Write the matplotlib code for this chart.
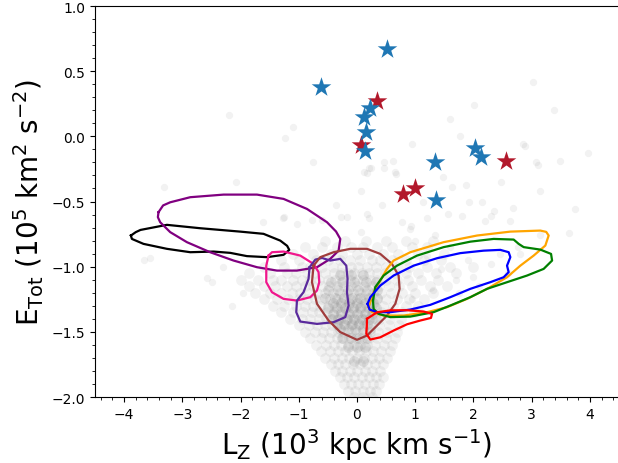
import numpy as np
import matplotlib
matplotlib.use("Agg")
import matplotlib.pyplot as plt
from matplotlib.ticker import MultipleLocator

# ---------------- data ----------------
# stars (L_Z in 10^3 kpc km/s, E_Tot in 10^5 km^2/s^2)
blue_lz = [0.51, -0.61, 0.23, 0.125, 0.148, 0.13, 1.333, 2.02, 2.136, 1.363]
blue_e = [0.668, 0.379, 0.214, 0.145, 0.035, -0.11, -0.199, -0.092, -0.157, -0.486]
red_lz = [0.344, 0.069, 2.565, 0.79, 1.0]
red_e = [0.274, -0.063, -0.193, -0.441, -0.40]

# contour outlines (closed)
black_x = [-3.883, -3.80, -3.718, -3.265, -2.692, -2.005, -1.605, -1.318, -1.20, -1.163, -1.261, -1.546,
           -1.890, -2.177, -2.464, -2.864, -3.265, -3.667, -3.866]
black_y = [-0.761, -0.735, -0.718, -0.679, -0.705, -0.731, -0.748, -0.800, -0.84, -0.871, -0.909, -0.927,
           -0.919, -0.894, -0.884, -0.889, -0.863, -0.825, -0.787]
purple_x = [-3.409, -3.33, -3.208, -2.864, -2.292, -1.718, -1.261, -0.859, -0.515, -0.36, -0.287, -0.316,
            -0.459, -0.687, -1.031, -1.375, -1.718, -2.120, -2.522, -2.921, -3.208, -3.380, -3.42]
purple_y = [-0.582, -0.53, -0.506, -0.467, -0.447, -0.447, -0.480, -0.557, -0.659, -0.73, -0.787, -0.877,
            -0.940, -1.004, -1.030, -1.030, -1.004, -0.953, -0.889, -0.812, -0.735, -0.659, -0.62]
pink_x = [-1.519, -1.46, -1.261, -0.974, -0.746, -0.660, -0.648, -0.687, -0.802, -1.031,
          -1.261, -1.460, -1.558, -1.558]
pink_y = [-0.915, -0.889, -0.884, -0.915, -0.979, -1.042, -1.119, -1.183, -1.234, -1.260,
          -1.247, -1.196, -1.119, -0.992]
indigo_x = [-0.814, -0.716, -0.601, -0.459, -0.287, -0.184, -0.162, -0.172, -0.144, -0.201,
            -0.402, -0.687, -0.974, -1.043, -1.031, -0.918, -0.832]
indigo_y = [-1.004, -0.946, -0.933, -0.953, -0.940, -0.992, -1.094, -1.196, -1.298, -1.387,
            -1.426, -1.439, -1.421, -1.349, -1.260, -1.196, -1.094]
brown_x = [-0.746, -0.631, -0.402, -0.115, 0.172, 0.400, 0.601, 0.715, 0.732, 0.658,
           0.515, 0.344, 0.172, 0.000, -0.287, -0.488, -0.687, -0.773]
brown_y = [-0.992, -0.927, -0.889, -0.863, -0.863, -0.902, -0.979, -1.068, -1.170, -1.285,
           -1.375, -1.452, -1.528, -1.561, -1.502, -1.413, -1.285, -1.119]
orange_x = [0.199, 0.285, 0.515, 0.629, 0.916, 1.488, 2.062, 2.634, 3.149, 3.25, 3.292, 3.235,
            3.034, 2.806, 2.577, 2.234, 1.890, 1.546, 1.203, 0.801, 0.457, 0.258]
orange_y = [-1.311, -1.196, -1.017, -0.953, -0.889, -0.812, -0.761, -0.731, -0.723, -0.733, -0.761,
            -0.838, -0.915, -0.992, -1.081, -1.170, -1.247, -1.311, -1.349, -1.375, -1.375,
            -1.349]
green_x = [0.275, 0.314, 0.457, 0.687, 1.031, 1.488, 1.947, 2.347, 2.691, 2.777, 2.863,
           3.149, 3.333, 3.351, 3.206, 2.921, 2.577, 2.234, 1.947, 1.603, 1.316, 0.916,
           0.572, 0.371, 0.285]
green_y = [-1.260, -1.157, -1.068, -0.992, -0.915, -0.850, -0.808, -0.787, -0.792, -0.825,
           -0.850, -0.869, -0.902, -0.953, -1.017, -1.068, -1.119, -1.170, -1.234, -1.298,
           -1.349, -1.383, -1.387, -1.362, -1.324]
blue_cx = [0.182, 0.229, 0.400, 0.629, 0.973, 1.375, 1.775, 2.175, 2.462, 2.605, 2.634,
           2.577, 2.605, 2.519, 2.290, 1.947, 1.603, 1.259, 0.916, 0.572, 0.344, 0.216]
blue_cy = [-1.285, -1.234, -1.145, -1.068, -0.992, -0.935, -0.896, -0.877, -0.871, -0.889,
           -0.927, -0.992, -1.042, -1.081, -1.119, -1.170, -1.234, -1.293, -1.329, -1.349,
           -1.349, -1.329]
red_cx = [0.172, 0.344, 0.572, 0.859, 1.144, 1.289, 1.271, 1.088, 0.859, 0.629, 0.400,
          0.229, 0.160, 0.168]
red_cy = [-1.400, -1.350, -1.335, -1.334, -1.344, -1.362, -1.393, -1.413, -1.442, -1.490,
          -1.542, -1.559, -1.515, -1.462]

# background field stars (grey cloud), read row by row
cloud_rows_y = [-0.80, -0.85, -0.90, -0.95, -1.00, -1.05, -1.10, -1.15, -1.20, -1.25, -1.30,
                -1.35, -1.40, -1.45, -1.50, -1.55, -1.60, -1.65, -1.70, -1.75, -1.80, -1.85,
                -1.90, -1.95, -2.00]
cloud_rows_x = [
    [-0.55, -0.2, 0.15, 0.5, 0.85, 1.3],
    [-0.9, -0.6, -0.35, -0.1, 0.1, 0.35, 0.6, 0.95, 1.2],
    [-1.1, -0.75, -0.45, -0.25, 0.0, 0.2, 0.45, 0.7, 1.05, 1.5],
    [-1.3, -1.0, -0.7, -0.5, -0.3, -0.12, 0.05, 0.25, 0.4, 0.6, 0.85, 1.15, 1.45],
    [-1.6, -1.25, -0.95, -0.8, -0.6, -0.42, -0.25, -0.1, 0.02, 0.18, 0.32, 0.5, 0.7, 0.9, 1.2, 1.6, 2.0],
    [-1.85, -1.5, -1.2, -1.05, -0.85, -0.7, -0.55, -0.4, -0.28, -0.15, -0.05, 0.08, 0.2, 0.35, 0.48, 0.65, 0.85, 1.05, 1.35, 1.7],
    [-2.0, -1.7, -1.45, -1.3, -1.1, -0.95, -0.8, -0.65, -0.5, -0.38, -0.25, -0.12, 0.0, 0.1, 0.22, 0.35, 0.5, 0.68, 0.88, 1.1, 1.4],
    [-1.85, -1.6, -1.4, -1.2, -1.05, -0.9, -0.75, -0.6, -0.48, -0.35, -0.22, -0.1, 0.0, 0.12, 0.25, 0.38, 0.55, 0.72, 0.95, 1.25, 1.55],
    [-1.75, -1.5, -1.3, -1.12, -0.98, -0.82, -0.68, -0.55, -0.42, -0.3, -0.18, -0.06, 0.05, 0.16, 0.28, 0.42, 0.58, 0.78, 1.0, 1.3],
    [-1.6, -1.38, -1.18, -1.0, -0.85, -0.72, -0.6, -0.47, -0.35, -0.24, -0.12, 0.0, 0.1, 0.22, 0.35, 0.5, 0.68, 0.9, 1.15],
    [-1.45, -1.25, -1.05, -0.9, -0.76, -0.63, -0.5, -0.38, -0.27, -0.15, -0.04, 0.07, 0.18, 0.3, 0.45, 0.62, 0.85, 1.05],
    [-1.3, -1.1, -0.92, -0.78, -0.65, -0.52, -0.4, -0.28, -0.17, -0.06, 0.05, 0.16, 0.28, 0.42, 0.58, 0.78, 0.98],
    [-1.15, -0.95, -0.8, -0.66, -0.53, -0.41, -0.3, -0.19, -0.08, 0.03, 0.14, 0.26, 0.4, 0.56, 0.75],
    [-1.0, -0.82, -0.68, -0.55, -0.43, -0.32, -0.2, -0.1, 0.01, 0.12, 0.24, 0.38, 0.55, 0.72],
    [-0.9, -0.72, -0.58, -0.45, -0.33, -0.22, -0.11, 0.0, 0.11, 0.23, 0.36, 0.52, 0.68],
    [-0.8, -0.62, -0.48, -0.35, -0.24, -0.13, -0.02, 0.09, 0.21, 0.34, 0.5, 0.65],
    [-0.7, -0.54, -0.4, -0.28, -0.16, -0.05, 0.06, 0.18, 0.31, 0.46, 0.6],
    [-0.62, -0.46, -0.33, -0.2, -0.08, 0.04, 0.16, 0.28, 0.42, 0.56],
    [-0.55, -0.4, -0.26, -0.13, 0.0, 0.12, 0.25, 0.38, 0.52],
    [-0.45, -0.32, -0.2, -0.07, 0.06, 0.18, 0.31, 0.45],
    [-0.38, -0.25, -0.12, 0.0, 0.13, 0.26, 0.4],
    [-0.3, -0.17, -0.05, 0.08, 0.2, 0.33, 0.45],
    [-0.22, -0.1, 0.02, 0.14, 0.27, 0.38],
    [-0.15, -0.03, 0.1, 0.22, 0.33],
    [-0.05, 0.1, 0.25],
]
# denser core of the cloud
core_rows_y = [-1.06, -1.12, -1.18, -1.24, -1.28, -1.32, -1.36, -1.40, -1.44, -1.48, -1.55,
               -1.62, -1.72]
core_rows_x = [
    [-0.3, -0.1, 0.1],
    [-0.45, -0.25, -0.05, 0.15, 0.32],
    [-0.5, -0.32, -0.15, 0.02, 0.18, 0.35],
    [-0.55, -0.38, -0.22, -0.08, 0.06, 0.2, 0.35],
    [-0.42, -0.28, -0.14, 0.0, 0.14, 0.28],
    [-0.5, -0.35, -0.2, -0.07, 0.06, 0.2, 0.33],
    [-0.42, -0.27, -0.13, 0.0, 0.13, 0.26],
    [-0.45, -0.32, -0.18, -0.05, 0.08, 0.21, 0.32],
    [-0.35, -0.22, -0.09, 0.04, 0.17],
    [-0.3, -0.16, -0.03, 0.1, 0.22],
    [-0.25, -0.1, 0.04, 0.17],
    [-0.15, 0.0, 0.14],
    [-0.05, 0.1],
]
sparse_x = [-2.20, -1.10, -1.24, -2.08, -3.32, -0.75, 3.03, 2.01, 3.38, 1.60, 1.77, 2.88, 3.96,
            3.49, 3.11, 0.94, 0.675, 0.47, 0.18, 0.065, 0.24, 2.48, 1.92, 2.14, 3.14, 3.75,
            3.64, 1.81, 0.91, 0.21, 0.065, -0.28, -0.78, -1.27, -1.62, -3.65, -3.55, -2.58,
            -2.49, 1.63, 2.30, 2.68, 1.34, 1.14, 3.14, 2.76, 1.9, 2.3, 2.6, 1.7, 2.1, 2.8,
            1.2, 1.0, 1.6, 2.85, 3.08, 1.47, 1.88, 0.43, 0.17, 0.21, 0.46, 0.65, 0.62, 0.125,
            2.36, 2.20, 2.63, -0.36, -0.17, -0.60, 0.77, 0.92, 1.20, 1.57, -1.26, -1.03,
            1.45, 2.45, 1.75, 2.0, 1.3, 0.95, -2.3, -1.95, -2.15]
sparse_y = [0.16, 0.07, -0.01, -0.35, -0.385, -0.20, 0.42, 0.24, 0.20, 0.13, 0.004, -0.074,
            -0.126, -0.19, -0.217, -0.06, -0.29, -0.20, -0.28, -0.42, -0.24, -0.35, -0.50,
            -0.50, -0.42, -0.56, -0.74, -0.61, -0.71, -0.63, -0.735, -0.62, -0.64, -0.63,
            -0.66, -0.95, -0.93, -1.085, -1.12, -0.385, -0.61, -0.55, -0.76, -0.50, -0.76,
            -0.85, -0.95, -0.98, -1.05, -1.1, -1.15, -0.9, -0.92, -0.80, -0.85, -0.06, -0.2,
            -0.31, -0.37, -0.53, -0.595, -0.24, -0.24, -0.275, -0.19, -0.275, -0.57, -0.65,
            -0.65, -0.53, -0.615, -0.645, -0.66, -0.685, -0.63, -0.595, -0.62, -0.67,
            -1.02, -0.9, -1.2, -1.08, -1.18, -1.25, -1.0, -1.2, -1.3]

# ---------------- plot ----------------
fig = plt.figure(figsize=(6.18, 4.64), dpi=100)
ax = fig.add_axes([0.1537, 0.1422, 0.8479, 0.8427])

cx = [x for row in cloud_rows_x for x in row]
cy = [y for y, row in zip(cloud_rows_y, cloud_rows_x) for _ in row]
kx = [x for row in core_rows_x for x in row]
ky = [y for y, row in zip(core_rows_y, core_rows_x) for _ in row]

ax.scatter(sparse_x, sparse_y, s=28, color="grey", alpha=0.1, linewidths=0, zorder=1)
ax.scatter(cx, cy, s=60, color="grey", alpha=0.1, linewidths=0, zorder=1)
ax.scatter(kx, ky, s=60, color="grey", alpha=0.2, linewidths=0, zorder=1)

contours = [
    (black_x, black_y, "black"),
    (purple_x, purple_y, "purple"),
    (pink_x, pink_y, "#f0168c"),
    (indigo_x, indigo_y, "#5a2a9c"),
    (brown_x, brown_y, "#a03c3c"),
    (orange_x, orange_y, "orange"),
    (green_x, green_y, "green"),
    (blue_cx, blue_cy, "blue"),
    (red_cx, red_cy, "red"),
]
for xs, ys, col in contours:
    ax.plot(list(xs) + [xs[0]], list(ys) + [ys[0]], color=col, lw=1.6,
            solid_joinstyle="round", zorder=2)

ax.scatter(red_lz, red_e, marker="*", s=220, color="#b2182b", linewidths=0, zorder=3)
ax.scatter(blue_lz, blue_e, marker="*", s=220, color="#1f77b4", linewidths=0, zorder=4)

ax.set_xlim(-4.5, 4.5)
ax.set_ylim(-2.0, 1.0)
ax.xaxis.set_major_locator(MultipleLocator(1))
ax.xaxis.set_minor_locator(MultipleLocator(0.2))
ax.yaxis.set_major_locator(MultipleLocator(0.5))
ax.yaxis.set_minor_locator(MultipleLocator(0.1))
ax.tick_params(which="both", labelsize=10)
ax.set_xlabel(r"L$_{\rm Z}$ (10$^3$ kpc km s$^{-1}$)", fontsize=20)
ax.set_ylabel(r"E$_{\rm Tot}$ (10$^5$ km$^2$ s$^{-2}$)", fontsize=20)

fig.savefig("out.png", dpi=100)
